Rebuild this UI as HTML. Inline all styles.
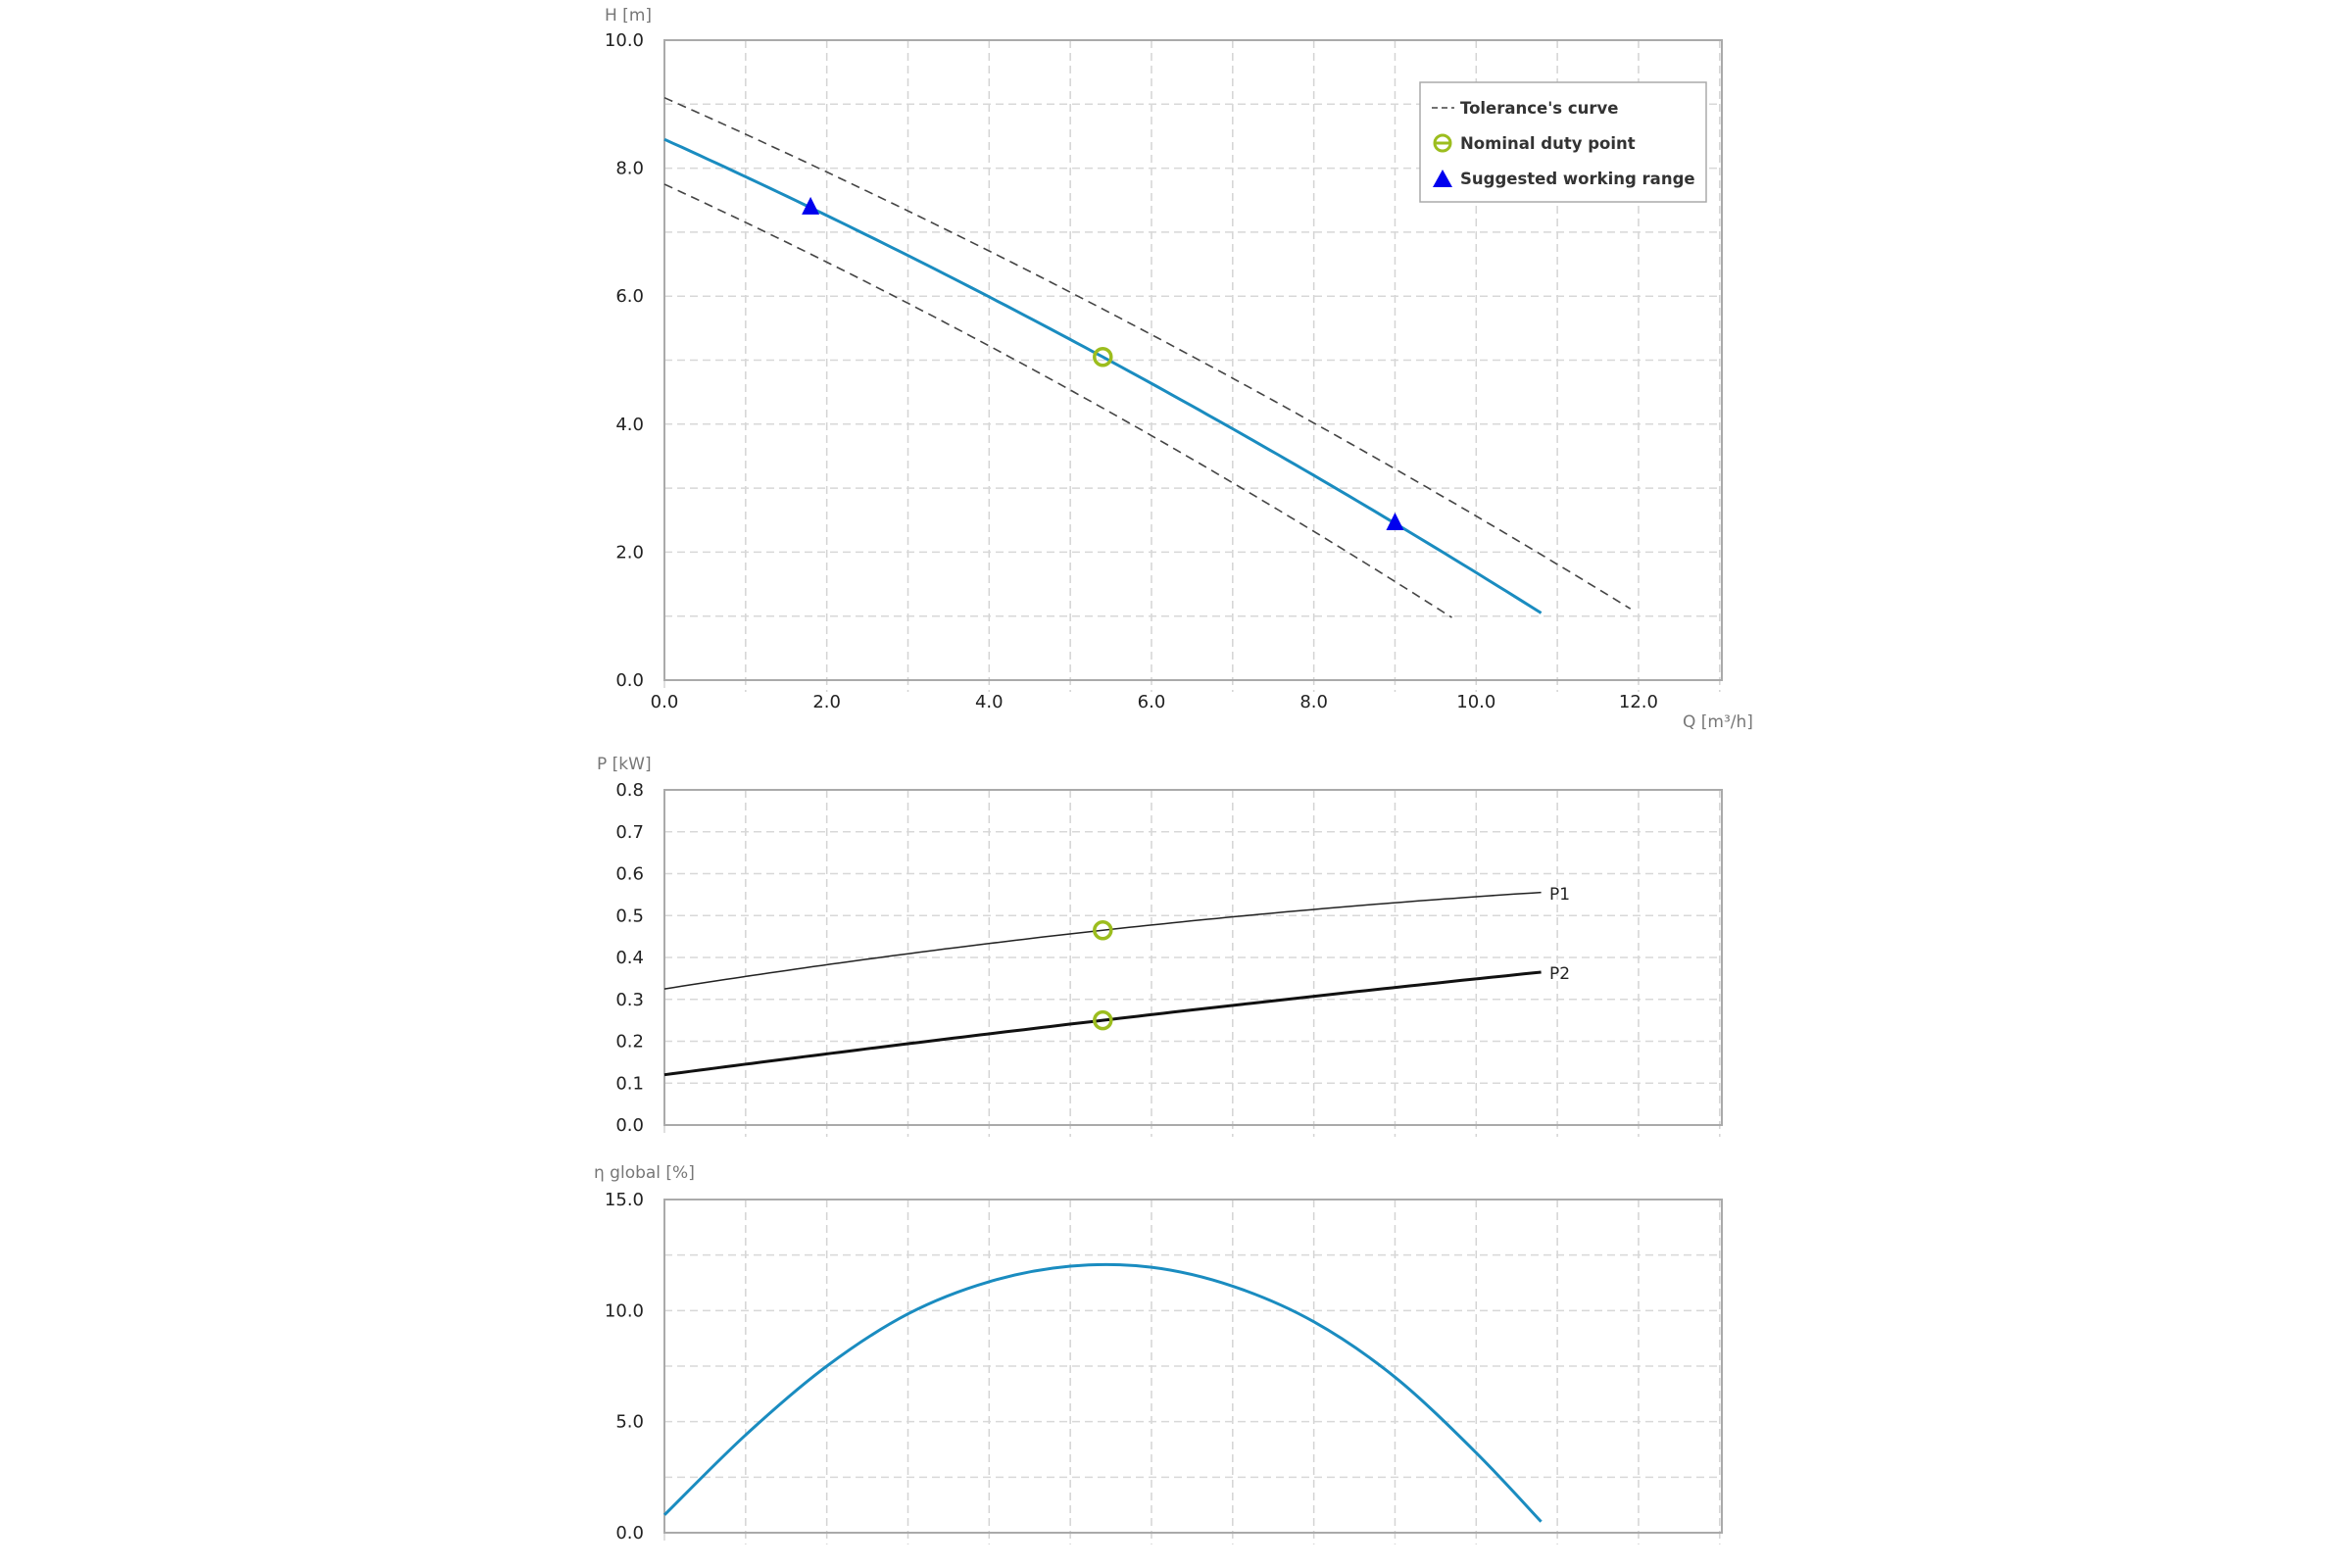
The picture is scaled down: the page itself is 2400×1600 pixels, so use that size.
<!DOCTYPE html>
<html><head><meta charset="utf-8"><style>
html,body{margin:0;padding:0;background:#fff}
svg{display:block}
text{font-family:"DejaVu Sans","Liberation Sans",sans-serif}
</style></head><body>
<svg id="s" width="2400" height="1600" viewBox="0 0 2400 1600" xmlns="http://www.w3.org/2000/svg"></svg>
<script>
const s=document.getElementById('s');
let h='';
const X0=678,KX=82.83,XR=1757;
const X=q=>X0+q*KX;
function grid(top,bot,ny){
  for(let i=1;i<=13;i++){const x=X(i);h+=`<line x1="${x}" y1="${top}" x2="${x}" y2="${bot+12}" stroke="#d4d4d4" stroke-width="1.5" stroke-dasharray="8,5"/>`;}
  h+=`<line x1="${X0}" y1="${bot}" x2="${X0}" y2="${bot+12}" stroke="#d4d4d4" stroke-width="1.5" stroke-dasharray="8,5"/>`;
  for(let j=1;j<ny;j++){const y=bot-(bot-top)*j/ny;h+=`<line x1="${X0}" y1="${y}" x2="${XR}" y2="${y}" stroke="#d8d8d8" stroke-width="1.5" stroke-dasharray="8,5"/>`;}
  h+=`<rect x="${X0}" y="${top}" width="${XR-X0}" height="${bot-top}" fill="none" stroke="#aaa" stroke-width="2"/>`;
}
function path(f,q0,q1,Y,attrs){let d='';for(let i=0;i<=100;i++){const q=q0+(q1-q0)*i/100;d+=(i?'L':'M')+X(q).toFixed(1)+','+Y(f(q)).toFixed(1);}h+=`<path d="${d}" fill="none" ${attrs}/>`;}
function ylab(y,t){h+=`<text x="657" y="${y+6}" font-size="18" text-anchor="end" fill="#222">${t}</text>`;}
// Chart 1
const T1=41,B1=694;const Y1=v=>B1-v*65.3;
grid(T1,B1,10);
for(let v=0;v<=10;v+=2)ylab(Y1(v),v.toFixed(1));
for(let q=0;q<=12;q+=2)h+=`<text x="${X(q)}" y="722" font-size="18" text-anchor="middle" fill="#222">${q.toFixed(1)}</text>`;
h+=`<text x="617" y="21" font-size="17" fill="#777">H [m]</text>`;
h+=`<text x="1717" y="742" font-size="17" fill="#777">Q [m³/h]</text>`;
const m=q=>8.45-0.574*q-0.0103*q*q;
path(q=>1.077*m(q/1.1),0,11.9,Y1,'stroke="#444" stroke-width="1.6" stroke-dasharray="9,6"');
path(q=>0.917*m(q/0.9),0,9.7,Y1,'stroke="#444" stroke-width="1.6" stroke-dasharray="9,6"');
path(m,0,10.8,Y1,'stroke="#1a8cc0" stroke-width="3"');
function tri(x,y){h+=`<polygon points="${x},${y-11} ${x-9},${y+7} ${x+9},${y+7}" fill="#0000ee"/>`;}
function circ(x,y){h+=`<circle cx="${x}" cy="${y}" r="8.5" fill="none" stroke="#9cbd1e" stroke-width="3.5"/>`;}
tri(X(1.8),Y1(m(1.8)));tri(X(9),Y1(m(9)));circ(X(5.4),Y1(m(5.4)));
// legend
h+=`<rect x="1449" y="84" width="292" height="122" fill="#fff" stroke="#aaa" stroke-width="1.5"/>`;
h+=`<line x1="1461" y1="110" x2="1484" y2="110" stroke="#444" stroke-width="1.6" stroke-dasharray="6,4"/>`;
h+=`<circle cx="1472" cy="146" r="8" fill="none" stroke="#9cbd1e" stroke-width="3"/><line x1="1464" y1="146" x2="1480" y2="146" stroke="#9cbd1e" stroke-width="3"/>`;
h+=`<polygon points="1472,173 1462,191 1482,191" fill="#0000ee"/>`;
[['Tolerance\'s curve',116],['Nominal duty point',152],['Suggested working range',188]].forEach(a=>h+=`<text x="1490" y="${a[1]}" font-size="16.5" font-weight="bold" fill="#333">${a[0]}</text>`);
// Chart 2
const T2=806,B2=1148;const Y2=v=>B2-v*(B2-T2)/0.8;
grid(T2,B2,8);
for(let i=0;i<=8;i++)ylab(Y2(i/10),(i/10).toFixed(1));
h+=`<text x="609" y="785" font-size="17" fill="#777">P [kW]</text>`;
const p1=q=>0.325+0.0305*q-0.00085*q*q, p2=q=>0.12+0.02546*q-0.000257*q*q;
path(p1,0,10.8,Y2,'stroke="#222" stroke-width="1.5"');
path(p2,0,10.8,Y2,'stroke="#111" stroke-width="3"');
circ(X(5.4),Y2(p1(5.4)));circ(X(5.4),Y2(p2(5.4)));
h+=`<text x="1581" y="918" font-size="17" fill="#222">P1</text><text x="1581" y="999" font-size="17" fill="#222">P2</text>`;
// Chart 3
const T3=1224,B3=1564;const Y3=v=>B3-v*(B3-T3)/15;
grid(T3,B3,6);
for(let v=0;v<=15;v+=5)ylab(Y3(v),v.toFixed(1));
h+=`<text x="606" y="1202" font-size="17" fill="#777">η global [%]</text>`;
const ep=[[0,0.8],[1,4.4],[2,7.5],[3,9.85],[4,11.3],[5,12.0],[6,11.95],[7,11.1],[8,9.5],[9,7.0],[10,3.6],[10.8,0.5]];
let d='M'+X(ep[0][0])+','+Y3(ep[0][1]);
for(let i=0;i<ep.length-1;i++){const p0=ep[Math.max(0,i-1)],p1_=ep[i],p2_=ep[i+1],p3=ep[Math.min(ep.length-1,i+2)];
const P=p=>[X(p[0]),Y3(p[1])];const a=P(p0),b=P(p1_),c=P(p2_),e=P(p3);
const c1=[b[0]+(c[0]-a[0])/6,b[1]+(c[1]-a[1])/6],c2=[c[0]-(e[0]-b[0])/6,c[1]-(e[1]-b[1])/6];
d+=`C${c1[0].toFixed(1)},${c1[1].toFixed(1)} ${c2[0].toFixed(1)},${c2[1].toFixed(1)} ${c[0].toFixed(1)},${c[1].toFixed(1)}`;}
h+=`<path d="${d}" fill="none" stroke="#1a8cc0" stroke-width="3"/>`;
s.innerHTML=h;
</script>
</body></html>
